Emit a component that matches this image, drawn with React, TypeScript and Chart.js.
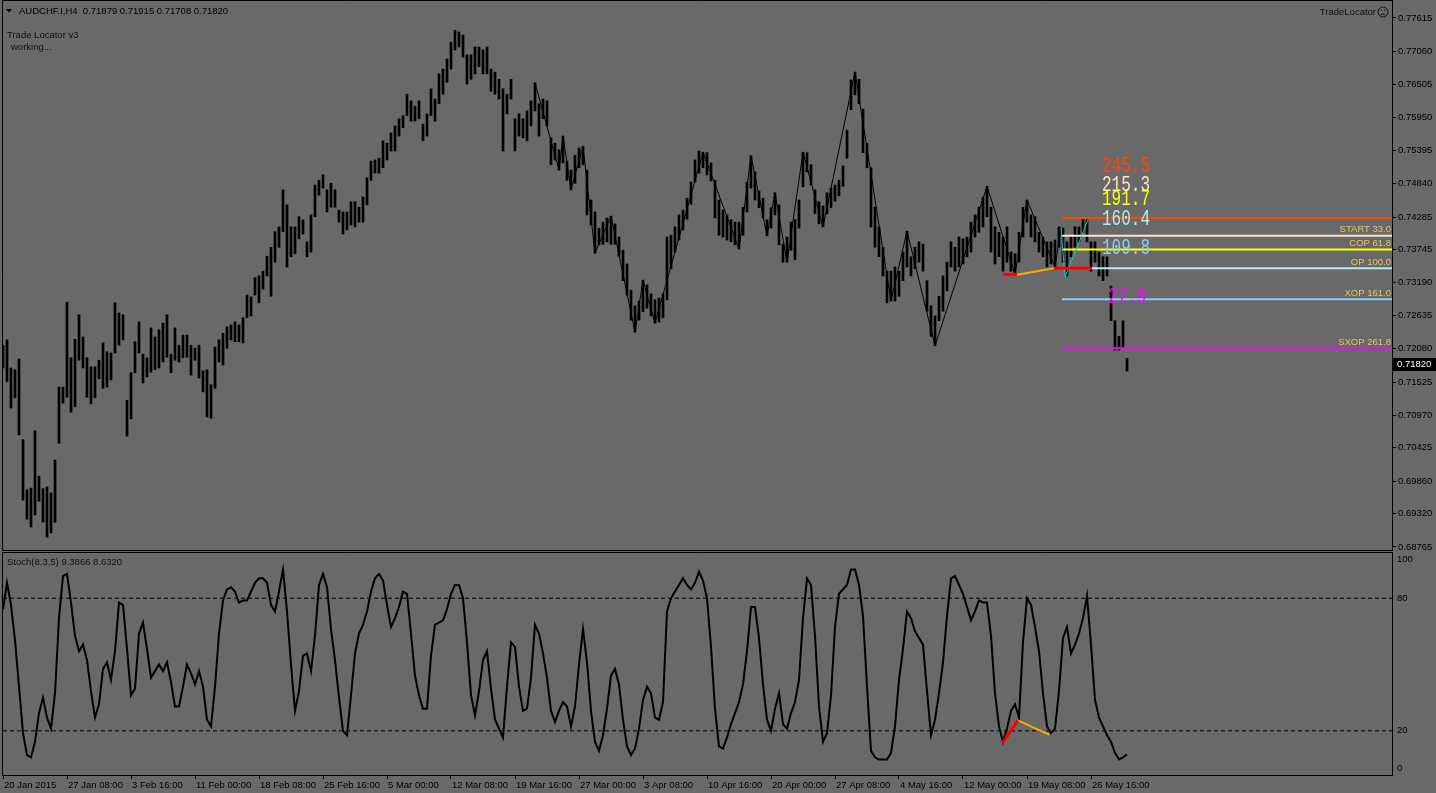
import { useEffect, useRef } from "react";
import { Chart, registerables } from "chart.js";

Chart.register(...registerables);

// AUDCHF.I H4, every second bar from 20 Jan 2015 00:00 (index = bar pair)
const barHigh = [
  0.7214, 0.7223, 0.7176, 0.7173, 0.7191, 0.7056, 0.6972, 0.6975, 0.7071, 0.6995,
  0.6974, 0.6977, 0.6967, 0.7022, 0.7144, 0.7144, 0.7286, 0.7193, 0.7224, 0.7265,
  0.7228, 0.7193, 0.7178, 0.7178, 0.7189, 0.7218, 0.7203, 0.7201, 0.7285, 0.7268,
  0.7265, 0.7122, 0.7168, 0.722, 0.7253, 0.7199, 0.7193, 0.7243, 0.7228, 0.724,
  0.7251, 0.7265, 0.7199, 0.7243, 0.7214, 0.7231, 0.7231, 0.7214, 0.7209, 0.7214,
  0.7171, 0.7173, 0.7148, 0.7211, 0.7223, 0.7234, 0.7245, 0.7248, 0.7253, 0.7248,
  0.726, 0.7298, 0.7295, 0.7327, 0.733, 0.7338, 0.7363, 0.7378, 0.7404, 0.7412,
  0.7474, 0.7449, 0.7412, 0.7412, 0.7429, 0.7424, 0.7387, 0.7432, 0.7482, 0.749,
  0.7499, 0.7474, 0.7485, 0.7474, 0.744, 0.7437, 0.7437, 0.7454, 0.7454, 0.7445,
  0.7462, 0.7494, 0.7522, 0.7524, 0.7527, 0.7556, 0.7552, 0.7569, 0.7581, 0.7593,
  0.7598, 0.7634, 0.7623, 0.7614, 0.7623, 0.7584, 0.7601, 0.7643, 0.7626, 0.7668,
  0.7676, 0.7693, 0.7721, 0.7741, 0.7738, 0.7733, 0.77, 0.77, 0.7713, 0.7713,
  0.7708, 0.7713, 0.7676, 0.7671, 0.7659, 0.7643, 0.7634, 0.7659, 0.7593, 0.7601,
  0.7593, 0.7606, 0.7623, 0.7653, 0.7618, 0.7626, 0.7623, 0.7561, 0.7552, 0.7541,
  0.7564, 0.7522, 0.7507, 0.7532, 0.7544, 0.7547, 0.7507, 0.7457, 0.7437, 0.741,
  0.742, 0.7427, 0.743, 0.7417, 0.7395, 0.7373, 0.735, 0.7306, 0.728, 0.7288,
  0.7323, 0.7315, 0.73, 0.729, 0.7293, 0.73, 0.7395, 0.7398, 0.7412, 0.7432,
  0.744, 0.746, 0.7487, 0.7524, 0.7539, 0.7537, 0.7536, 0.7519, 0.749, 0.7457,
  0.744, 0.7432, 0.7424, 0.742, 0.742, 0.7445, 0.7487, 0.7531, 0.7504, 0.7472,
  0.746, 0.7424, 0.7444, 0.7469, 0.7449, 0.7383, 0.7395, 0.742, 0.7424, 0.7457,
  0.7537, 0.7536, 0.7516, 0.7474, 0.7454, 0.7447, 0.7469, 0.7477, 0.7482, 0.749,
  0.7514, 0.7574, 0.7658, 0.7671, 0.7659, 0.7609, 0.7552, 0.7511, 0.7445, 0.7412,
  0.7378, 0.7338, 0.7338, 0.7345, 0.7338, 0.737, 0.7405, 0.7362, 0.7378, 0.7387,
  0.7383, 0.7322, 0.728, 0.7263, 0.7296, 0.733, 0.7353, 0.7387, 0.7378, 0.7395,
  0.7392, 0.7395, 0.742, 0.7432, 0.7445, 0.7462, 0.748, 0.7445, 0.7412, 0.7403,
  0.7395, 0.7412, 0.737, 0.7367, 0.7403, 0.7445, 0.7457, 0.7432, 0.7429, 0.7403,
  0.7395, 0.7387, 0.7387, 0.739, 0.7412, 0.741, 0.7387, 0.7395, 0.7412, 0.7412,
  0.7424, 0.7424, 0.7387, 0.7387, 0.737, 0.7362, 0.7362, 0.7313, 0.7255, 0.7229,
  0.7255, 0.7192,
];

const barLow = [
  0.7176, 0.7153, 0.7109, 0.7126, 0.7064, 0.6955, 0.6923, 0.691, 0.693, 0.6953,
  0.6918, 0.6893, 0.69, 0.6918, 0.705, 0.7117, 0.7127, 0.7102, 0.7111, 0.7189,
  0.7176, 0.7127, 0.7116, 0.7126, 0.7158, 0.7142, 0.7144, 0.7156, 0.7201, 0.7214,
  0.7223, 0.7062, 0.7091, 0.7168, 0.7201, 0.7151, 0.7161, 0.7169, 0.7173, 0.7176,
  0.7186, 0.7194, 0.7168, 0.7189, 0.7186, 0.7193, 0.7194, 0.7164, 0.7189, 0.7159,
  0.7136, 0.7094, 0.7092, 0.7142, 0.7186, 0.7181, 0.7209, 0.7223, 0.722, 0.722,
  0.7218, 0.726, 0.7263, 0.7298, 0.7285, 0.7308, 0.733, 0.7296, 0.7353, 0.7378,
  0.7404, 0.7345, 0.7362, 0.7367, 0.7392, 0.74, 0.7362, 0.737, 0.7429, 0.7465,
  0.7477, 0.7437, 0.7445, 0.7445, 0.742, 0.74, 0.7407, 0.7415, 0.7412, 0.742,
  0.742, 0.7449, 0.749, 0.7502, 0.7502, 0.7511, 0.7524, 0.7539, 0.7539, 0.7564,
  0.7578, 0.7598, 0.7589, 0.7589, 0.7593, 0.7556, 0.7564, 0.7598, 0.7589, 0.7618,
  0.7634, 0.7654, 0.7676, 0.7708, 0.7713, 0.7696, 0.7651, 0.7659, 0.7668, 0.768,
  0.7668, 0.7668, 0.7639, 0.7634, 0.7626, 0.7539, 0.7601, 0.7626, 0.7539, 0.7564,
  0.7561, 0.7556, 0.7581, 0.7606, 0.7564, 0.7593, 0.7581, 0.7516, 0.7524, 0.7507,
  0.7519, 0.749, 0.7474, 0.7485, 0.7511, 0.7516, 0.7432, 0.7415, 0.7368, 0.7382,
  0.7383, 0.7387, 0.7383, 0.7383, 0.7363, 0.7322, 0.7298, 0.7256, 0.7236, 0.7256,
  0.727, 0.7276, 0.7263, 0.7251, 0.7253, 0.726, 0.729, 0.7342, 0.737, 0.739,
  0.7407, 0.7425, 0.745, 0.7487, 0.7502, 0.7511, 0.7499, 0.7489, 0.7427, 0.7398,
  0.7395, 0.739, 0.7387, 0.7382, 0.7375, 0.7398, 0.7437, 0.7477, 0.7457, 0.7444,
  0.7427, 0.7397, 0.741, 0.7432, 0.7382, 0.7353, 0.7353, 0.7373, 0.7357, 0.741,
  0.7479, 0.7504, 0.7482, 0.7434, 0.7417, 0.7412, 0.7434, 0.7444, 0.7455, 0.7464,
  0.748, 0.7527, 0.7608, 0.7633, 0.7618, 0.7536, 0.7511, 0.7412, 0.7378, 0.7362,
  0.733, 0.7285, 0.7288, 0.7288, 0.7296, 0.7322, 0.7345, 0.733, 0.7342, 0.7353,
  0.7338, 0.7271, 0.7229, 0.7213, 0.7255, 0.7271, 0.7305, 0.7345, 0.7338, 0.7345,
  0.735, 0.7362, 0.737, 0.7395, 0.7403, 0.7412, 0.7429, 0.737, 0.735, 0.7362,
  0.7338, 0.7353, 0.7338, 0.7333, 0.7353, 0.7395, 0.742, 0.7395, 0.7387, 0.737,
  0.7362, 0.7345, 0.735, 0.7345, 0.7378, 0.7353, 0.733, 0.7362, 0.7378, 0.7387,
  0.7403, 0.7387, 0.7338, 0.7353, 0.733, 0.7322, 0.733, 0.7255, 0.7206, 0.7206,
  0.7209, 0.7171,
];

// Stoch(8,3,5) main line, same bar pairs
const stochMain = [
  75, 87, 77, 61, 40, 19, 9, 8, 15, 28,
  35, 26, 21, 37, 71, 90, 91, 78, 63, 56,
  59, 52, 38, 26, 32, 48, 51, 43, 56, 78,
  77, 57, 36, 39, 64, 69, 57, 44, 47, 50,
  47, 51, 42, 31, 31, 40, 50, 46, 41, 47,
  40, 25, 22, 40, 64, 79, 84, 85, 83, 78,
  79, 79, 83, 87, 89, 89, 87, 77, 74, 83,
  93, 74, 50, 29, 38, 54, 55, 47, 63, 86,
  91, 85, 66, 52, 35, 20, 18, 36, 55, 64,
  68, 74, 83, 89, 91, 88, 77, 67, 71, 76,
  83, 82, 64, 45, 36, 30, 30, 54, 68, 69,
  70, 75, 82, 86, 86, 80, 60, 36, 27, 38,
  52, 56, 39, 25, 21, 17, 40, 60, 58, 40,
  29, 30, 44, 68, 64, 55, 44, 29, 24, 29,
  33, 31, 22, 31, 50, 66, 51, 29, 15, 11,
  18, 30, 45, 48, 41, 25, 13, 9, 12, 21,
  34, 40, 37, 26, 25, 33, 74, 80, 83, 86,
  89, 86, 84, 87, 92, 88, 80, 58, 30, 13,
  12, 17, 23, 28, 33, 41, 56, 76, 76, 62,
  41, 25, 20, 30, 37, 23, 21, 28, 33, 43,
  71, 89, 86, 63, 31, 15, 19, 36, 67, 82,
  84, 86, 93, 93, 86, 72, 40, 11, 8, 7,
  7, 7, 10, 22, 43, 57, 74, 71, 65, 62,
  59, 38, 18, 25, 37, 51, 72, 89, 90, 86,
  82, 76, 70, 74, 79, 78, 78, 63, 37, 22,
  15, 21, 29, 32, 26, 60, 80, 77, 67, 56,
  37, 22, 19, 21, 38, 62, 67, 55, 59, 64,
  71, 81, 59, 34, 26, 22, 18, 15, 10, 7,
  8, 9.3866,
];

const priceTicks = [
  0.77615, 0.7706, 0.76505, 0.7595, 0.75395, 0.7484, 0.74285, 0.73745, 0.7319,
  0.72635, 0.7208, 0.71525, 0.7097, 0.70425, 0.6986, 0.6932, 0.68765,
];

const dateLabels = [
  "20 Jan 2015", "27 Jan 08:00", "3 Feb 16:00", "11 Feb 00:00", "18 Feb 08:00",
  "25 Feb 16:00", "5 Mar 00:00", "12 Mar 08:00", "19 Mar 16:00", "27 Mar 00:00",
  "3 Apr 08:00", "10 Apr 16:00", "20 Apr 00:00", "27 Apr 08:00", "4 May 16:00",
  "12 May 00:00", "19 May 08:00", "26 May 16:00",
];

const stochLevels = [20, 80];
const stochScaleLabels = [100, 80, 20, 0];

const zigzagIdx = [
  133, 139, 140, 142, 145, 148, 152, 158, 160, 163, 175, 184, 187, 191, 193, 196,
  200, 205, 213, 222, 226, 233, 246, 253, 256, 263, 264.5,
];
const zigzagPrice = [
  0.7653, 0.7507, 0.7564, 0.7474, 0.7547, 0.7368, 0.743, 0.7236, 0.7323, 0.7251,
  0.7537, 0.7375, 0.7531, 0.7397, 0.7469, 0.7353, 0.7537, 0.7412, 0.7671, 0.7288,
  0.7405, 0.7213, 0.748, 0.7333, 0.7457, 0.7345, 0.741,
];

const patternIdx = [264.5, 265.5, 271.25];
const patternPrice = [0.741, 0.7328, 0.7424];

const divPriceIdx = [250, 253.5, 262.75, 272.25];
const divPrice = [0.7333, 0.7332, 0.7343, 0.7343];
const divStochIdx = [249.9, 253.7, 261.6];
const divStoch = [14.4, 24.7, 18.2];

const fibLevels = [0.7427, 0.7397, 0.7374, 0.7343, 0.7291, 0.7209];
const fibNames = ["", "START 33.0", "COP 61.8", "OP 100.0", "XOP 161.0", "SXOP 261.8"];
const fibNumbers = ["245.5", "215.3", "191.7", "160.4", "109.8", "27.9"];

const lastPrice = 0.7182;
const headerText = "AUDCHF.I,H4  0.71879 0.71915 0.71708 0.71820";
const stochText = "Stoch(8,3,5) 9.3866 8.6320";

const BG = "#696969";
const FIB_COLORS = ["#FF4500", "#FFE4C4", "#FFFF00", "#AFEEEE", "#87CEFA", "#FF00FF"];
const FIB_TEXT = "#E8C850";
const UI = '"Liberation Sans", Arial, sans-serif';
const UI_SIZE = 9.5;
const X_MAX = 347.25; // 4px per index, chart area 3..1392
const FIB_START = 264.75;
const Y_MIN = 0.687146;
const Y_MAX = 0.778994;

const pts = (xs: number[], ys: number[]) => xs.map((x, i) => ({ x, y: ys[i] }));

function line(data: any[], color: string, width: number, order: number, extra: any = {}) {
  return {
    type: "line",
    data,
    borderColor: color,
    borderWidth: width,
    pointRadius: 0,
    tension: 0,
    fill: false,
    order,
    ...extra,
  };
}

const priceDecor = {
  id: "priceDecor",
  afterDatasetsDraw(chart: any) {
    const { ctx } = chart;
    const xs = chart.scales.x;
    const ys = chart.scales.y;
    // big pattern numbers
    const anchors = [0.7513, 0.7482, 0.7459, 0.7425, 0.7377, 0.7295];
    ctx.save();
    ctx.font = '16px "Liberation Mono", monospace';
    ctx.textBaseline = "middle";
    ctx.textAlign = "left";
    fibNumbers.forEach((t, i) => {
      const px = xs.getPixelForValue(i === 5 ? 276.25 : 274.75);
      const py = ys.getPixelForValue(anchors[i]);
      ctx.save();
      ctx.translate(px, py);
      ctx.scale(1, 1.4);
      ctx.fillStyle = FIB_COLORS[i];
      ctx.fillText(t, 0, 0);
      ctx.restore();
    });
    // level names
    ctx.font = `${UI_SIZE}px ${UI}`;
    ctx.textAlign = "right";
    ctx.fillStyle = FIB_TEXT;
    fibNames.forEach((t, i) => {
      if (!t) return;
      ctx.fillText(t, chart.chartArea.right - 1, ys.getPixelForValue(fibLevels[i]) - 6);
    });
    ctx.restore();
  },
  afterDraw(chart: any) {
    const { ctx, chartArea } = chart;
    const ys = chart.scales.y;
    ctx.save();
    ctx.strokeStyle = "#000";
    ctx.lineWidth = 1;
    ctx.beginPath();
    ctx.moveTo(2.5, 0);
    ctx.lineTo(2.5, 551);
    ctx.moveTo(2, 0.5);
    ctx.lineTo(chartArea.right + 1, 0.5);
    ctx.moveTo(2, 550.5);
    ctx.lineTo(chartArea.right + 1, 550.5);
    ctx.moveTo(chartArea.right + 0.5, 0);
    ctx.lineTo(chartArea.right + 0.5, 551);
    ctx.stroke();

    ctx.fillStyle = "#000";
    ctx.beginPath();
    ctx.moveTo(6, 9);
    ctx.lineTo(12, 9);
    ctx.lineTo(9, 12.5);
    ctx.closePath();
    ctx.fill();

    ctx.font = `${UI_SIZE}px ${UI}`;
    ctx.textBaseline = "middle";
    ctx.textAlign = "left";
    ctx.fillStyle = "#000";
    ctx.fillText(headerText, 19, 11);
    ctx.fillStyle = "#111";
    ctx.fillText("Trade Locator v3", 7, 35);
    ctx.fillText("working...", 11, 47);
    ctx.textAlign = "right";
    ctx.fillText("TradeLocator", 1376, 12);

    // sad face
    ctx.strokeStyle = "#111";
    ctx.beginPath();
    ctx.arc(1383, 12, 5, 0, Math.PI * 2);
    ctx.stroke();
    ctx.fillRect(1380.5, 9.5, 1.2, 1.2);
    ctx.fillRect(1384, 9.5, 1.2, 1.2);
    ctx.beginPath();
    ctx.arc(1383, 17, 3, Math.PI * 1.2, Math.PI * 1.8);
    ctx.stroke();

    // current price box
    const py = Math.round(ys.getPixelForValue(lastPrice));
    ctx.fillStyle = "#000";
    ctx.fillRect(chartArea.right + 1, py - 6, 44, 13);
    ctx.fillStyle = "#fff";
    ctx.textAlign = "left";
    ctx.fillText(lastPrice.toFixed(5), chartArea.right + 5, py + 0.5);
    ctx.restore();
  },
};

const stochDecor = {
  id: "stochDecor",
  afterDraw(chart: any) {
    const { ctx, chartArea } = chart;
    const ys = chart.scales.y;
    ctx.save();
    ctx.strokeStyle = "#000";
    ctx.lineWidth = 1;
    ctx.beginPath();
    ctx.moveTo(2.5, 0);
    ctx.lineTo(2.5, chartArea.bottom + 1);
    ctx.moveTo(2, 0.5);
    ctx.lineTo(chartArea.right + 1, 0.5);
    ctx.moveTo(chartArea.right + 0.5, 0);
    ctx.lineTo(chartArea.right + 0.5, chartArea.bottom + 1);
    ctx.stroke();
    ctx.font = `${UI_SIZE}px ${UI}`;
    ctx.textBaseline = "middle";
    ctx.fillStyle = "#111";
    ctx.fillText(stochText, 7, 10);
    ctx.fillStyle = "#000";
    stochScaleLabels.forEach((v) => {
      const p = ys.getPixelForValue(v);
      const yy = Math.min(Math.max(p, chartArea.top + 5), chartArea.bottom - 7);
      ctx.fillText(String(v), chartArea.right + 5, yy);
    });
    ctx.restore();
  },
};

const baseOptions = {
  animation: false,
  responsive: false,
  events: [],
  plugins: { legend: { display: false }, tooltip: { enabled: false } },
};

export default function App() {
  const priceRef = useRef<HTMLCanvasElement>(null);
  const stochRef = useRef<HTMLCanvasElement>(null);

  useEffect(() => {
    document.body.style.margin = "0";
    document.body.style.background = BG;
    const charts: Chart[] = [];

    const priceCanvas = priceRef.current;
    if (priceCanvas) {
      const bars = barHigh.map((h, i) => ({ x: i, y: [barLow[i], h] }));
      charts.push(
        new Chart(priceCanvas, {
          type: "bar",
          data: {
            datasets: [
              {
                type: "bar",
                data: bars,
                backgroundColor: "#000",
                barThickness: 2,
                borderWidth: 0,
                grouped: false,
                order: 10,
              },
              line(pts(zigzagIdx, zigzagPrice), "#000", 1, 6),
              ...fibLevels.map((lv, i) =>
                line([{ x: FIB_START, y: lv }, { x: X_MAX, y: lv }], FIB_COLORS[i], 2, 5)
              ),
              line(pts(patternIdx, patternPrice), "#00CED1", 1, 3),
              line(pts(divPriceIdx.slice(1, 3), divPrice.slice(1, 3)), "#FFA500", 2, 2),
              line(pts(divPriceIdx.slice(0, 2), divPrice.slice(0, 2)), "#FF0000", 3, 1),
              line(pts(divPriceIdx.slice(2, 4), divPrice.slice(2, 4)), "#FF0000", 3, 1),
            ] as any,
          },
          options: {
            ...baseOptions,
            layout: { padding: { left: 3, top: 1, right: 0, bottom: 2 } },
            scales: {
              x: { type: "linear", min: 0, max: X_MAX, display: false, offset: false },
              y: {
                type: "linear",
                position: "right",
                min: Y_MIN,
                max: Y_MAX,
                afterBuildTicks: (s: any) => {
                  s.ticks = priceTicks.map((v) => ({ value: v }));
                },
                afterFit: (s: any) => {
                  s.width = 44;
                  s.paddingTop = 0;
                  s.paddingBottom = 0;
                },
                ticks: {
                  autoSkip: false,
                  color: "#000",
                  padding: 2,
                  font: { family: UI, size: UI_SIZE },
                  callback: (v: any) => Number(v).toFixed(5),
                },
                grid: { drawOnChartArea: false, tickLength: 4, color: "#000" },
                border: { display: true, color: "#000" },
              },
            },
          } as any,
          plugins: [priceDecor],
        })
      );
    }

    const stochCanvas = stochRef.current;
    if (stochCanvas) {
      charts.push(
        new Chart(stochCanvas, {
          type: "line",
          data: {
            datasets: [
              line(pts(divStochIdx.slice(0, 2), divStoch.slice(0, 2)), "#FF0000", 3, 0),
              line(pts(divStochIdx.slice(1, 3), divStoch.slice(1, 3)), "#FFA500", 2, 1),
              line(
                stochMain.map((v, i) => ({ x: i, y: v })),
                "#000",
                2,
                3
              ),
              ...stochLevels.map((lv) =>
                line([{ x: 0, y: lv }, { x: X_MAX, y: lv }], "#000", 1, 5, { borderDash: [4, 3] })
              ),
            ] as any,
          },
          options: {
            ...baseOptions,
            layout: { padding: { left: 3, top: 2, right: 0, bottom: 0 } },
            scales: {
              x: {
                type: "linear",
                position: "bottom",
                min: 0,
                max: X_MAX,
                offset: false,
                afterBuildTicks: (s: any) => {
                  s.ticks = dateLabels.map((_, k) => ({ value: k * 16 }));
                },
                afterFit: (s: any) => {
                  s.height = 18;
                  s.paddingLeft = 0;
                  s.paddingRight = 0;
                },
                ticks: {
                  autoSkip: false,
                  maxRotation: 0,
                  minRotation: 0,
                  align: "start",
                  labelOffset: 1,
                  padding: 1,
                  color: "#000",
                  font: { family: UI, size: UI_SIZE },
                  callback: (_v: any, i: number) => dateLabels[i],
                },
                grid: { drawOnChartArea: false, tickLength: 4, color: "#000" },
                border: { display: true, color: "#000" },
              },
              y: {
                type: "linear",
                position: "right",
                min: 0,
                max: 100,
                afterFit: (s: any) => {
                  s.width = 44;
                  s.paddingTop = 0;
                  s.paddingBottom = 0;
                },
                ticks: { display: false },
                grid: { drawOnChartArea: false, drawTicks: false },
                border: { display: true, color: "#000" },
              },
            },
          } as any,
          plugins: [stochDecor],
        })
      );
    }

    return () => {
      charts.forEach((c) => c.destroy());
    };
  }, []);

  return (
    <div
      style={{
        position: "fixed",
        left: 0,
        top: 0,
        width: 1436,
        height: 793,
        background: BG,
      }}
    >
      <canvas
        ref={priceRef}
        width={1436}
        height={552}
        style={{ position: "absolute", left: 0, top: 0 }}
      />
      <canvas
        ref={stochRef}
        width={1436}
        height={241}
        style={{ position: "absolute", left: 0, top: 552 }}
      />
    </div>
  );
}
